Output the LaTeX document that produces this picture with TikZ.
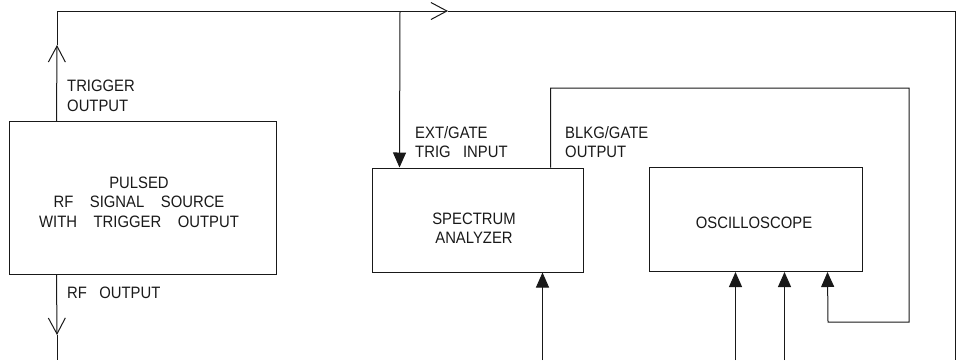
\documentclass[tikz,border=0pt]{standalone}
\usepackage{fontspec}
\setmainfont{Liberation Sans}[FakeStretch=0.9]
\usepackage{tikz}
\usetikzlibrary{positioning,arrows.meta,calc}

\begin{document}
\begin{tikzpicture}[
    x=1pt, y=-1pt,
    every node/.style={font=\fontsize{16.5}{19.5}\selectfont, text=black!90},
    box/.style={draw=black!90, line width=1pt, inner sep=0pt},
    lbl/.style={anchor=west, align=left, inner sep=0pt},
    wire/.style={line width=1pt, draw=black!90},
    fillarrow/.style={wire, -{Triangle[length=15pt, width=13pt]}},
    openarrow/.style={wire, -{Straight Barb[length=16pt, width=17pt]}}
]
\useasboundingbox (0,0) rectangle (958,360);

% instruments
\node[box, minimum width=267pt, minimum height=153pt] (source) at (142.5,198) {};
\node[align=center, text width=250pt] (sourcetxt) at (139,202) {PULSED\\RF\ \ \ SIGNAL\ \ \ SOURCE\\WITH\ \ \ TRIGGER\ \ \ OUTPUT};
\node[box, minimum width=211pt, minimum height=104pt, align=center] (analyzer) at (477.5,220) {};
\node[align=center] (analyzertxt) at (474,228) {SPECTRUM\\ANALYZER};
\node[box, minimum width=213pt, minimum height=104pt] (scope) at (755.5,219.5) {};
\node (scopetxt) at (754,222.5) {OSCILLOSCOPE};

% port labels
\node[lbl] (trigout) at (67,96) {TRIGGER\\OUTPUT};
\node[lbl] (rfout) at (67,292.5) {RF\ \ \ OUTPUT};
\node[lbl] (extgate) at (415,142) {EXT/GATE\\TRIG\ \ \ INPUT};
\node[lbl] (blkg) at (565,142) {BLKG/GATE\\OUTPUT};

% connection points
\coordinate (trigport) at ($(source.north west)+(48,0)$);
\coordinate (trigmark) at (57,45);
\coordinate (topmark) at (448,11);
\coordinate (tap) at (400,11);
\coordinate (topright) at (955,11);
\coordinate (botright) at (955,360);
\coordinate (rfport) at ($(source.south west)+(48,0)$);
\coordinate (rfmark) at (57,335);
\coordinate (rfend) at (57,360);
\coordinate (satrig) at ($(analyzer.north west)+(28,0)$);
\coordinate (sablkg) at ($(analyzer.north west)+(179,0)$);
\coordinate (loopne) at (909,88);
\coordinate (loopsw) at (828,322);
\coordinate (scopein3) at ($(scope.south west)+(179,0)$);
\coordinate (sain) at ($(analyzer.south west)+(171,0)$);
\coordinate (scopein1) at ($(scope.south west)+(87,0)$);
\coordinate (scopein2) at ($(scope.south west)+(136,0)$);

% trigger bus
\draw[openarrow] (trigport) -- (trigmark);
\draw[openarrow] (trigmark) |- (topmark);
\draw[wire] (topmark) -- (topright) -- (botright);
\draw[fillarrow] (tap) -- (satrig);

% rf output
\draw[openarrow] (rfport) -- (rfmark);
\draw[wire] (rfmark) -- (rfend);

% blanking loop
\draw[fillarrow] (sablkg) |- (loopne) |- (loopsw) -- (scopein3);

% inputs from below
\draw[fillarrow] (sain |- botright) -- (sain);
\draw[fillarrow] (scopein1 |- botright) -- (scopein1);
\draw[fillarrow] (scopein2 |- botright) -- (scopein2);

\end{tikzpicture}
\end{document}
